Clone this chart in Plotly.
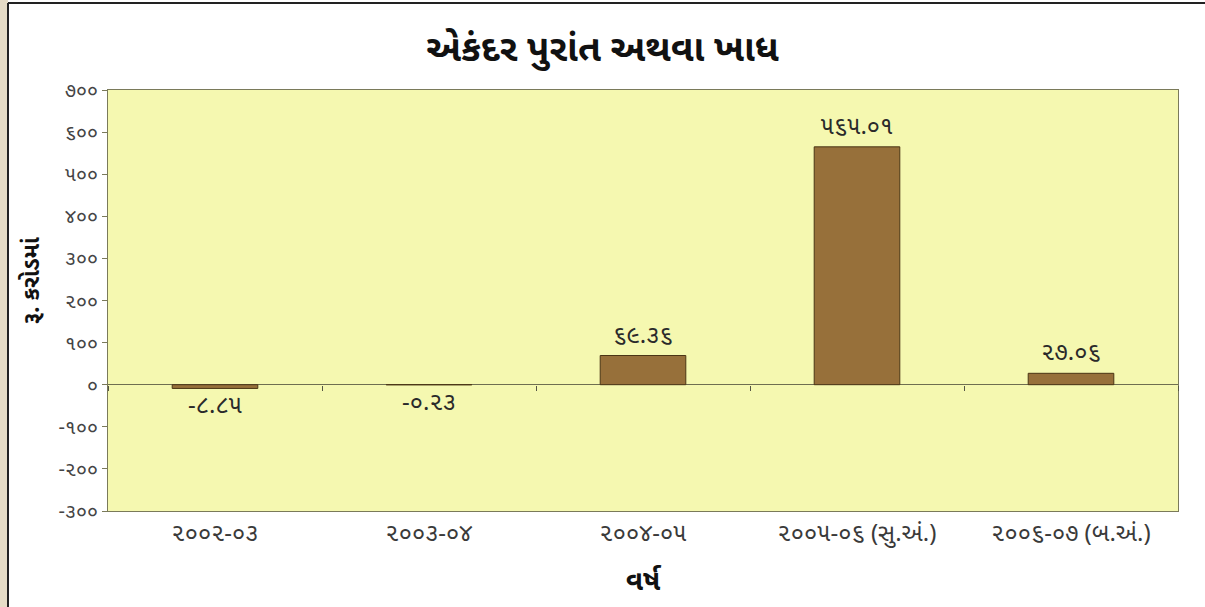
import plotly.graph_objects as go

categories = ["૨૦૦૨-૦૩", "૨૦૦૩-૦૪", "૨૦૦૪-૦૫", "૨૦૦૫-૦૬ (સુ.અં.)", "૨૦૦૬-૦૭ (બ.અં.)"]
values = [-8.85, -0.23, 69.36, 565.01, 27.06]
value_labels = ["-૮.૮૫", "-૦.૨૩", "૬૯.૩૬", "૫૬૫.૦૧", "૨૭.૦૬"]
y_tickvals = [-300, -200, -100, 0, 100, 200, 300, 400, 500, 600, 700]
y_ticktext = ["-૩૦૦", "-૨૦૦", "-૧૦૦", "૦", "૧૦૦", "૨૦૦", "૩૦૦", "૪૦૦", "૫૦૦", "૬૦૦", "૭૦૦"]

title_text = "એકંદર પુરાંત અથવા ખાધ"
y_title = "રૂ. કરોડમાં"
x_title = "વર્ષ"

FONT = "Noto Sans Gujarati, Lohit Gujarati, Shruti, Noto Sans, sans-serif"
W, H = 1205, 607
L, R, T, B = 108, 27, 90, 96
pw, ph = W - L - R, H - T - B

def px(x):
    return (x - L) / pw

def py(y):
    return 1 - (y - T) / ph

fig = go.Figure()
fig.add_trace(go.Bar(
    x=categories, y=values,
    marker=dict(color="#97703A", line=dict(color="#4A3515", width=1)),
    text=value_labels, textposition="outside", constraintext="none",
    textfont=dict(family=FONT, size=24, color="#2A2A2A"),
    cliponaxis=False, width=0.4,
))
# invisible trace for the zero-line tick axis
fig.add_trace(go.Scatter(x=categories, y=values, xaxis="x2", mode="markers",
                         marker=dict(opacity=0), hoverinfo="skip", showlegend=False))

fig.update_layout(
    width=W, height=H,
    margin=dict(l=L, r=R, t=T, b=B),
    paper_bgcolor="white",
    plot_bgcolor="#F5F8B0",
    showlegend=False,
    title=dict(text=f"<b>{title_text}</b>", x=0.5, xanchor="center", y=1 - 48 / H, yanchor="middle",
               font=dict(family=FONT, size=37, color="#111111")),
    xaxis=dict(
        showline=True, linecolor="#7A7A5A", linewidth=1, mirror=True,
        ticks="", tickfont=dict(family=FONT, size=24, color="#3A3A3A"),
        title=dict(text=f"<b>{x_title}</b>", font=dict(family=FONT, size=28, color="#111111"), standoff=20),
    ),
    xaxis2=dict(
        overlaying="x", anchor="free", position=0.3, side="bottom",
        showline=False, showticklabels=False, ticks="outside", ticklen=5, tickcolor="#555544",
        tickson="boundaries", matches="x", showgrid=False,
    ),
    yaxis=dict(
        range=[-300, 700], tickvals=y_tickvals, ticktext=y_ticktext,
        showline=True, linecolor="#7A7A5A", linewidth=1, mirror=True,
        ticks="outside", ticklen=5, tickcolor="#7A7A5A",
        showgrid=False, zeroline=True, zerolinecolor="#6E6E50", zerolinewidth=1,
        tickfont=dict(family=FONT, size=20, color="#444444"),
    ),
    bargap=0.6,
)

# y-axis title placed like the original (slightly above the plot centre)
fig.add_annotation(text=f"<b>{y_title}</b>", textangle=-90, xref="paper", yref="paper",
                   x=px(33), y=py(281), xanchor="center", yanchor="middle", showarrow=False,
                   font=dict(family=FONT, size=23, color="#111111"))

# outer frame (beige strip at left and dark border)
fig.add_shape(type="rect", xref="paper", yref="paper", x0=px(0), x1=px(8), y0=py(H), y1=py(0),
              fillcolor="#E6DCC6", line=dict(width=0), layer="below")
fig.add_shape(type="line", xref="paper", yref="paper", x0=px(8), x1=px(8), y0=py(H), y1=py(3),
              line=dict(color="#222222", width=2))
fig.add_shape(type="line", xref="paper", yref="paper", x0=px(8), x1=px(W), y0=py(3), y1=py(3),
              line=dict(color="#222222", width=2))

fig.write_html("out.html", config={"displayModeBar": False},
               post_script="document.body.style.margin='0';")
